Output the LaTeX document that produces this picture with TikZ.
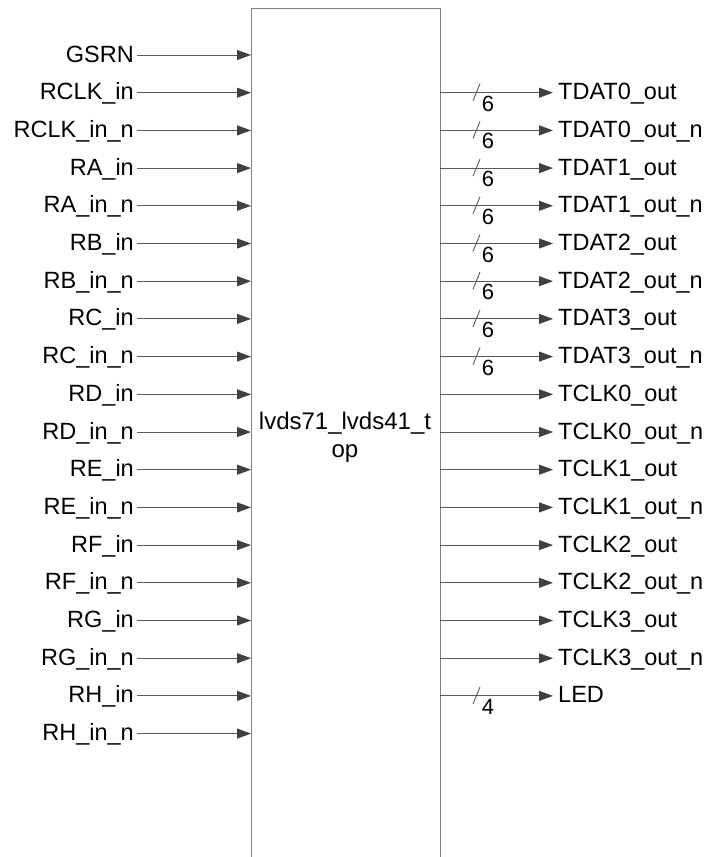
\documentclass[tikz,border=0pt]{standalone}
\usepackage{fontspec}
\setmainfont{Liberation Sans}
\usetikzlibrary{arrows.meta}
\begin{document}
\begin{tikzpicture}[x=1pt,y=-1pt,
  lbl/.style={inner sep=0pt,font=\fontsize{23.5}{28}\selectfont},
  wire/.style={draw=black!65,line width=0.9pt,-{Triangle[length=14pt,width=10pt,color=black!75,fill=black!75]}},
  busmark/.style={draw=black!65,line width=0.9pt},
  buslbl/.style={inner sep=0pt,font=\fontsize{22}{26}\selectfont},
  boxline/.style={draw=black!50,line width=1pt}]
\useasboundingbox (0,0) rectangle (709,857);
% block
\coordinate (bl) at (251,857);
\coordinate (tl) at (251,8);
\coordinate (tr) at (440,8);
\coordinate (br) at (440,857);
\draw[boxline] (bl) -- (tl) -- (tr) -- (br);
\node[lbl,align=center,font=\fontsize{24}{28}\selectfont,anchor=base] (title) at (345,457) {lvds71\_lvds41\_t\\op};
% inputs
\foreach \t [count=\i from 0] in {GSRN,RCLK\_in,RCLK\_in\_n,RA\_in,RA\_in\_n,RB\_in,RB\_in\_n,RC\_in,RC\_in\_n,RD\_in,RD\_in\_n,RE\_in,RE\_in\_n,RF\_in,RF\_in\_n,RG\_in,RG\_in\_n,RH\_in,RH\_in\_n}{
  \pgfmathsetmacro{\yy}{55+37.7*\i}
  \node[lbl,anchor=base east] (in\i) at (134,\yy+7) {\t};
  \coordinate (pin\i) at (251,\yy);
  \draw[wire] (137,\yy) coordinate (s\i) -- (pin\i);
}
% outputs
\foreach \t/\b [count=\i from 1] in {TDAT0\_out/6,TDAT0\_out\_n/6,TDAT1\_out/6,TDAT1\_out\_n/6,TDAT2\_out/6,TDAT2\_out\_n/6,TDAT3\_out/6,TDAT3\_out\_n/6,TCLK0\_out/0,TCLK0\_out\_n/0,TCLK1\_out/0,TCLK1\_out\_n/0,TCLK2\_out/0,TCLK2\_out\_n/0,TCLK3\_out/0,TCLK3\_out\_n/0,LED/4}{
  \pgfmathsetmacro{\yy}{55+37.7*\i}
  \node[lbl,anchor=base west] (out\i) at (558,\yy+7) {\t};
  \coordinate (pout\i) at (440,\yy);
  \coordinate (tip\i) at (553,\yy);
  \draw[wire] (pout\i) -- (tip\i);
  \ifnum\b>0
    \draw[busmark] (473,\yy+8) -- (480,\yy-9);
    \node[buslbl,anchor=center] (bus\i) at (488,\yy+11) {\b};
  \fi
}
\end{tikzpicture}
\end{document}
